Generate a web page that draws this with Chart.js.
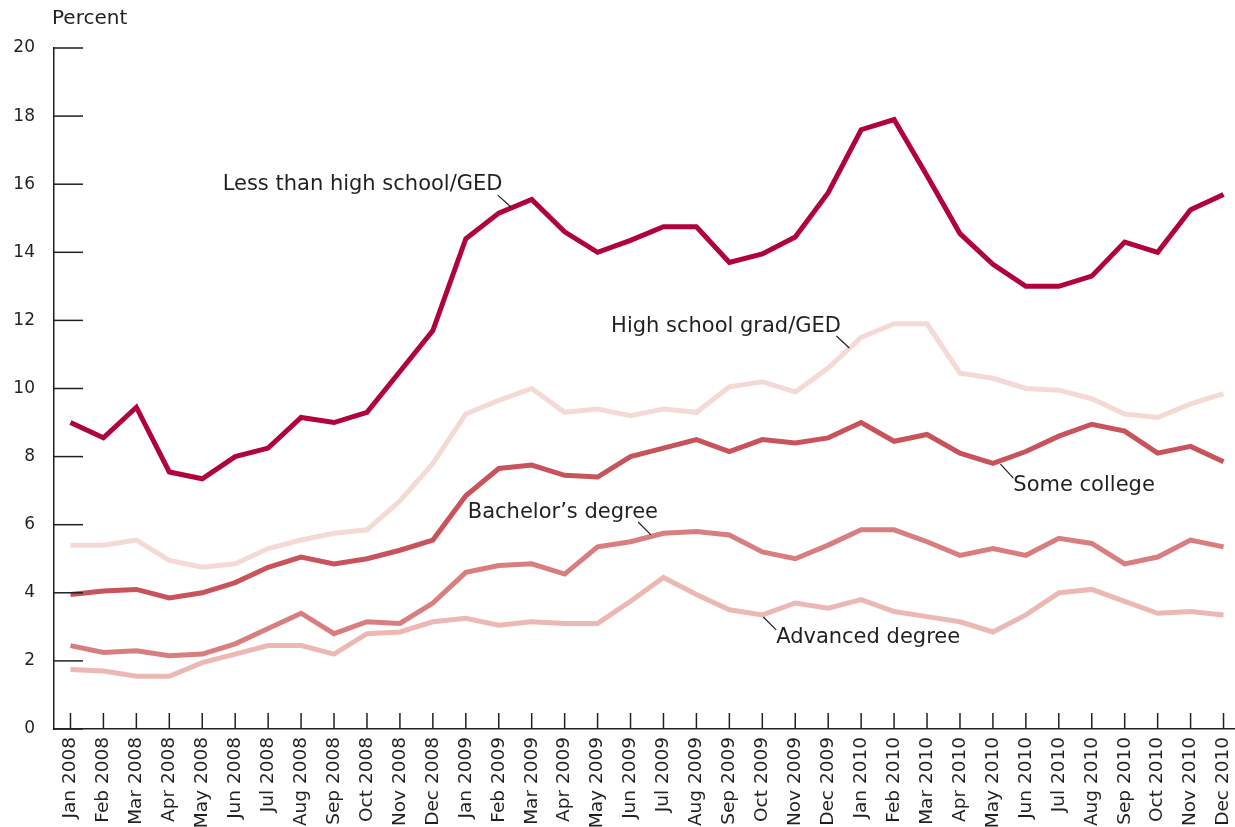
<!DOCTYPE html>
<html>
<head>
<meta charset="utf-8">
<script src="https://cdn.jsdelivr.net/npm/chart.js@4/dist/chart.umd.min.js"></script>
<style>
  html, body { margin: 0; padding: 0; background: #fff; overflow: hidden; }
  #wrap { width: 1235px; height: 827px; overflow: hidden; }
</style>
</head>
<body>
<div id="wrap"><canvas id="chart" width="1240" height="827"></canvas></div>
<script>
const months = ['Jan','Feb','Mar','Apr','May','Jun','Jul','Aug','Sep','Oct','Nov','Dec'];
const years = ['2008','2009','2010'];
const labels = [];
years.forEach(y => months.forEach(m => labels.push(`${m} ${y}`)));

const lessThanHS = [9.0, 8.55, 9.45, 7.55, 7.35, 8.0, 8.25, 9.15, 9.0, 9.3, 10.5, 11.7,
  14.4, 15.15, 15.55, 14.6, 14.0, 14.35, 14.75, 14.75, 13.7, 13.95, 14.45, 15.75,
  17.6, 17.9, 16.25, 14.55, 13.65, 13.0, 13.0, 13.3, 14.3, 14.0, 15.25, 15.7];
const highSchool = [5.4, 5.4, 5.55, 4.95, 4.75, 4.85, 5.3, 5.55, 5.75, 5.85, 6.7, 7.8,
  9.25, 9.65, 10.0, 9.3, 9.4, 9.2, 9.4, 9.3, 10.05, 10.2, 9.9, 10.6,
  11.5, 11.9, 11.9, 10.45, 10.3, 10.0, 9.95, 9.7, 9.25, 9.15, 9.55, 9.85];
const someCollege = [3.95, 4.05, 4.1, 3.85, 4.0, 4.3, 4.75, 5.05, 4.85, 5.0, 5.25, 5.55,
  6.85, 7.65, 7.75, 7.45, 7.4, 8.0, 8.25, 8.5, 8.15, 8.5, 8.4, 8.55,
  9.0, 8.45, 8.65, 8.1, 7.8, 8.15, 8.6, 8.95, 8.75, 8.1, 8.3, 7.85];
const bachelors = [2.45, 2.25, 2.3, 2.15, 2.2, 2.5, 2.95, 3.4, 2.8, 3.15, 3.1, 3.7,
  4.6, 4.8, 4.85, 4.55, 5.35, 5.5, 5.75, 5.8, 5.7, 5.2, 5.0, 5.4,
  5.85, 5.85, 5.5, 5.1, 5.3, 5.1, 5.6, 5.45, 4.85, 5.05, 5.55, 5.35];
const advanced = [1.75, 1.7, 1.55, 1.55, 1.95, 2.2, 2.45, 2.45, 2.2, 2.8, 2.85, 3.15,
  3.25, 3.05, 3.15, 3.1, 3.1, 3.75, 4.45, 3.95, 3.5, 3.35, 3.7, 3.55,
  3.8, 3.45, 3.3, 3.15, 2.85, 3.35, 4.0, 4.1, 3.75, 3.4, 3.45, 3.35];

// annotation labels in data units: [text, x index, y value, leader x1, y1, x2, y2]
const notes = [
  ['Less than high school/GED', 4.62, 15.98, 12.97, 15.68, 13.37, 15.33],
  ['High school grad/GED', 16.41, 11.81, 23.25, 11.54, 23.64, 11.19],
  ['Bachelor\u2019s degree', 12.06, 6.37, 17.23, 6.08, 17.62, 5.70],
  ['Some college', 28.62, 7.14, 28.23, 7.78, 28.62, 7.37],
  ['Advanced degree', 21.42, 2.70, 21.03, 3.29, 21.42, 2.91]
];

const INK = '#231f20';
const FONT = '"DejaVu Sans", sans-serif';

const line = (data, color) => ({
  data, borderColor: color, borderWidth: 5, pointRadius: 0,
  tension: 0, fill: false, borderJoinStyle: 'miter', borderCapStyle: 'butt'
});

const extras = {
  id: 'extras',
  afterDatasetsDraw(c) {
    const ctx = c.ctx, x = c.scales.x, y = c.scales.y, a = c.chartArea;
    ctx.save();
    ctx.strokeStyle = INK;
    ctx.lineWidth = 1.5;
    // inward tick marks
    y.ticks.forEach((t, i) => {
      const py = y.getPixelForTick(i);
      ctx.beginPath(); ctx.moveTo(a.left, py); ctx.lineTo(a.left + 29, py); ctx.stroke();
    });
    x.ticks.forEach((t, i) => {
      const px = x.getPixelForTick(i);
      ctx.beginPath(); ctx.moveTo(px, a.bottom); ctx.lineTo(px, a.bottom - 16); ctx.stroke();
    });
    // axis title
    ctx.fillStyle = INK;
    ctx.font = `20px ${FONT}`;
    ctx.textBaseline = 'middle';
    ctx.textAlign = 'left';
    ctx.fillText('Percent', 52, 19);
    // series labels + leader lines
    ctx.font = `21px ${FONT}`;
    ctx.lineWidth = 1.2;
    notes.forEach(n => {
      ctx.fillText(n[0], x.getPixelForValue(n[1]), y.getPixelForValue(n[2]));
      ctx.beginPath();
      ctx.moveTo(x.getPixelForValue(n[3]), y.getPixelForValue(n[4]));
      ctx.lineTo(x.getPixelForValue(n[5]), y.getPixelForValue(n[6]));
      ctx.stroke();
    });
    ctx.restore();
  }
};

new Chart(document.getElementById('chart'), {
  type: 'line',
  data: {
    labels,
    datasets: [
      line(lessThanHS, '#b2023a'),
      line(someCollege, '#c8535b'),
      line(bachelors, '#d87e7e'),
      line(advanced, '#ebb8b3'),
      line(highSchool, '#f5d9d5')
    ]
  },
  options: {
    responsive: false, animation: false, devicePixelRatio: 1,
    layout: { padding: { top: 48, right: 0, left: 0, bottom: 0 } },
    plugins: { legend: { display: false }, tooltip: { enabled: false } },
    scales: {
      x: {
        offset: true,
        grid: { display: true, drawOnChartArea: false, drawTicks: false },
        border: { display: true, color: INK, width: 1.5 },
        ticks: { color: INK, font: { family: FONT, size: 18.5 }, minRotation: 90, maxRotation: 90, padding: 8, autoSkip: false },
        afterFit: s => { s.height = 98; s.paddingLeft = 0; s.paddingRight = 0; }
      },
      y: {
        min: 0, max: 20,
        grid: { display: true, drawOnChartArea: false, drawTicks: false },
        border: { display: true, color: INK, width: 1.5 },
        ticks: { stepSize: 2, color: INK, font: { family: FONT, size: 17 }, padding: 19 },
        afterFit: s => { s.width = 54; }
      }
    }
  },
  plugins: [extras]
});
</script>
</body>
</html>
